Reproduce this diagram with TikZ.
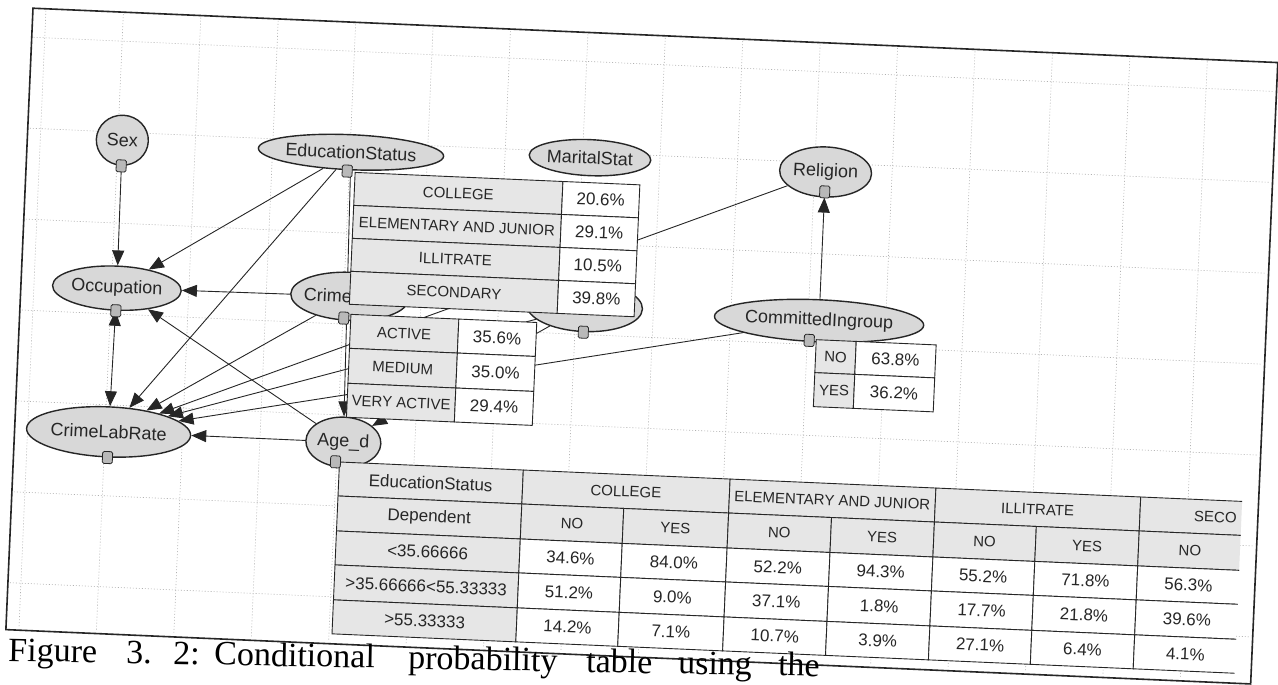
\documentclass[tikz,border=0pt]{standalone}
\usepackage{fontspec}
\setmainfont{Liberation Sans}
\newfontfamily\capfont{Liberation Serif}
\usetikzlibrary{shapes.geometric,arrows.meta}

\definecolor{ink}{HTML}{262626}
\definecolor{nodefill}{HTML}{D8D8D8}
\definecolor{cellgray}{HTML}{E6E6E6}
\definecolor{gridc}{HTML}{B0B0B0}

\pgfdeclarelayer{gridlayer}
\pgfdeclarelayer{edgelayer}
\pgfsetlayers{gridlayer,edgelayer,main}

\tikzset{
  bn/.style={ellipse, draw=ink, line width=1.4pt, fill=nodefill, inner sep=0pt,
    font=\fontsize{18}{20}\selectfont, text=ink},
  lbl/.style={font=\fontsize{18}{20}\selectfont, text=ink, inner sep=0pt},
  edge/.style={draw=ink, line width=0.9pt, -{Triangle[length=15pt,width=12pt]}},
  edgetwo/.style={draw=ink, line width=0.9pt, {Triangle[length=15pt,width=12pt]}-{Triangle[length=15pt,width=12pt]}},
  icon/.style={draw=ink, fill=gray!55, rounded corners=1.5pt, minimum width=10pt,
    minimum height=12pt, inner sep=0pt, line width=0.8pt},
  tbl/.style={draw=ink, line width=0.9pt},
  tcap/.style={font=\fontsize{15}{17}\selectfont, text=ink, inner sep=0pt},
  tnum/.style={font=\fontsize{17}{19}\selectfont, text=ink, inner sep=0pt},
  gridl/.style={draw=gridc, line width=0.6pt, dash pattern=on 1pt off 2pt},
  capt/.style={font=\capfont\fontsize{34}{38}\selectfont, text=black, inner sep=0pt, anchor=base west},
}

\newcommand{\mycell}[8]{\draw[tbl,fill=#5] (#1,#2) rectangle (#3,#4);
  \node[#6] (#7) at ({(#1+#3)/2},{(#2+#4)/2}) {#8};}

\begin{document}
\begin{tikzpicture}[x=1pt,y=-1pt]
\useasboundingbox (0,0) rectangle (1278,685);
\clip (0,0) rectangle (1278,685);
\begin{pgfonlayer}{gridlayer}
  \fill[white] (0,0) rectangle (1278,685);
\end{pgfonlayer}

\begin{scope}[rotate around={-2.5:(640,342)}, transform shape]
  % grid and frame
  \begin{pgfonlayer}{gridlayer}
    \foreach \gx in {32,109.5,...,1200} \draw[gridl] (\gx,37) -- (\gx,655);
    \foreach \gy in {64,155,...,640} \draw[gridl] (21,\gy) -- (1263,\gy);
    \draw[draw=ink, line width=1.6pt] (19,35) rectangle (1265,657);
  \end{pgfonlayer}

  % nodes
  \node[bn, minimum width=52pt, minimum height=50pt] (sex) at (114,163) {Sex};
  \node[bn, minimum width=146pt, minimum height=35pt] (edu) at (343,165) {EducationStatus};
  \node[bn, minimum width=116pt, minimum height=36pt] (mar) at (582,160) {MaritalStat};
  \node[bn, minimum width=80pt, minimum height=50pt] (rel) at (818,164) {Religion};
  \node[bn, minimum width=117pt, minimum height=44pt] (occ) at (115,311) {Occupation};
  \node[bn, minimum width=118pt, minimum height=48pt] (crime) at (348,309) {};
  \node[lbl, anchor=west] (crimetxt) at (302,309) {Crime};
  \node[bn, minimum width=116pt, minimum height=50pt] (dep) at (583,309) {};
  \node[bn, minimum width=168pt, minimum height=42pt] (com) at (818,313) {CommittedIngroup};
  \node[bn, minimum width=137pt, minimum height=50pt] (clr) at (113,455) {CrimeLabRate};
  \node[bn, minimum width=75pt, minimum height=50pt] (age) at (348,455) {Age\_d};

  % edges, under the nodes
  \begin{pgfonlayer}{edgelayer}
    \draw[edge] (sex) -- (occ);
    \draw[edge] (edu) -- (occ);
    \draw[edge] (edu) -- (clr);
    \draw[edge] (edu) -- (age);
    \draw[edge] (crime) -- (occ);
    \draw[edge] (crime) -- (clr);
    \draw[edgetwo] (occ) -- (clr);
    \draw[edge] (age) -- (occ);
    \draw[edge] (age) -- (clr);
    \draw[edge] (dep) -- (clr);
    \draw[edge] (dep) -- (age);
    \draw[edge] (com) -- (clr);
    \draw[edge] (com) -- (rel);
    \draw[edge] (rel) -- (clr);
  \end{pgfonlayer}

  % table 1 : EducationStatus
  \mycell{348}{185}{556}{218}{cellgray}{tcap}{ta1}{COLLEGE}
  \mycell{556}{185}{633}{218}{white}{tnum}{ta2}{20.6\%}
  \mycell{348}{218}{556}{251}{cellgray}{tcap}{ta3}{ELEMENTARY AND JUNIOR}
  \mycell{556}{218}{633}{251}{white}{tnum}{ta4}{29.1\%}
  \mycell{348}{251}{556}{284}{cellgray}{tcap}{ta5}{ILLITRATE}
  \mycell{556}{251}{633}{284}{white}{tnum}{ta6}{10.5\%}
  \mycell{348}{284}{556}{317}{cellgray}{tcap}{ta7}{SECONDARY}
  \mycell{556}{284}{633}{317}{white}{tnum}{ta8}{39.8\%}

  % table 2 : Crime
  \mycell{350}{327}{458}{361}{cellgray}{tcap}{tb1}{ACTIVE}
  \mycell{458}{327}{536}{361}{white}{tnum}{tb2}{35.6\%}
  \mycell{350}{361}{458}{396}{cellgray}{tcap}{tb3}{MEDIUM}
  \mycell{458}{361}{536}{396}{white}{tnum}{tb4}{35.0\%}
  \mycell{350}{396}{458}{430}{cellgray}{tcap}{tb5}{VERY ACTIVE}
  \mycell{458}{396}{536}{430}{white}{tnum}{tb6}{29.4\%}

  % table 3 : CommittedIngroup
  \mycell{816}{332}{856}{365}{cellgray}{tcap}{tc1}{NO}
  \mycell{856}{332}{936}{365}{white}{tnum}{tc2}{63.8\%}
  \mycell{816}{365}{856}{399}{cellgray}{tcap}{tc3}{YES}
  \mycell{856}{365}{936}{399}{white}{tnum}{tc4}{36.2\%}

  % big table : Age_d
  \begin{scope}
    \clip (338,468) rectangle (1248.5,655);
    \mycell{345}{475}{529}{509}{cellgray}{tnum}{h0}{EducationStatus}
    \mycell{529}{475}{736}{509}{cellgray}{tcap}{h1}{COLLEGE}
    \mycell{736}{475}{942}{509}{cellgray}{tcap}{h2}{ELEMENTARY AND JUNIOR}
    \mycell{942}{475}{1147}{509}{cellgray}{tcap}{h3}{ILLITRATE}
    \draw[tbl,fill=cellgray] (1147,475) rectangle (1352,509);
    \node[tcap, anchor=east] (h4) at (1244,492) {SECO};
    \mycell{345}{509}{529}{544}{cellgray}{tnum}{d0}{Dependent}
    \mycell{529}{509}{631}{544}{cellgray}{tcap}{d1}{NO}
    \mycell{631}{509}{736}{544}{cellgray}{tcap}{d2}{YES}
    \mycell{736}{509}{839}{544}{cellgray}{tcap}{d3}{NO}
    \mycell{839}{509}{942}{544}{cellgray}{tcap}{d4}{YES}
    \mycell{942}{509}{1044}{544}{cellgray}{tcap}{d5}{NO}
    \mycell{1044}{509}{1147}{544}{cellgray}{tcap}{d6}{YES}
    \mycell{1147}{509}{1250}{544}{cellgray}{tcap}{d7}{NO}
    \mycell{345}{544}{529}{578}{cellgray}{tnum}{r0}{<35.66666}
    \mycell{529}{544}{631}{578}{white}{tnum}{r1}{34.6\%}
    \mycell{631}{544}{736}{578}{white}{tnum}{r2}{84.0\%}
    \mycell{736}{544}{839}{578}{white}{tnum}{r3}{52.2\%}
    \mycell{839}{544}{942}{578}{white}{tnum}{r4}{94.3\%}
    \mycell{942}{544}{1044}{578}{white}{tnum}{r5}{55.2\%}
    \mycell{1044}{544}{1147}{578}{white}{tnum}{r6}{71.8\%}
    \mycell{1147}{544}{1250}{578}{white}{tnum}{r7}{56.3\%}
    \mycell{345}{578}{529}{613}{cellgray}{tnum}{s0}{>35.66666<55.33333}
    \mycell{529}{578}{631}{613}{white}{tnum}{s1}{51.2\%}
    \mycell{631}{578}{736}{613}{white}{tnum}{s2}{9.0\%}
    \mycell{736}{578}{839}{613}{white}{tnum}{s3}{37.1\%}
    \mycell{839}{578}{942}{613}{white}{tnum}{s4}{1.8\%}
    \mycell{942}{578}{1044}{613}{white}{tnum}{s5}{17.7\%}
    \mycell{1044}{578}{1147}{613}{white}{tnum}{s6}{21.8\%}
    \mycell{1147}{578}{1250}{613}{white}{tnum}{s7}{39.6\%}
    \mycell{345}{613}{529}{647}{cellgray}{tnum}{u0}{>55.33333}
    \mycell{529}{613}{631}{647}{white}{tnum}{u1}{14.2\%}
    \mycell{631}{613}{736}{647}{white}{tnum}{u2}{7.1\%}
    \mycell{736}{613}{839}{647}{white}{tnum}{u3}{10.7\%}
    \mycell{839}{613}{942}{647}{white}{tnum}{u4}{3.9\%}
    \mycell{942}{613}{1044}{647}{white}{tnum}{u5}{27.1\%}
    \mycell{1044}{613}{1147}{647}{white}{tnum}{u6}{6.4\%}
    \mycell{1147}{613}{1250}{647}{white}{tnum}{u7}{4.1\%}
  \end{scope}

  % icons
  \node[icon] (sexI) at (sex.south) {};
  \node[icon] (eduI) at (340,184) {};
  \node[icon] (relI) at (818,184) {};
  \node[icon] (occI) at (occ.south) {};
  \node[icon] (crimeI) at (343,331) {};
  \node[icon] (depI) at (dep.south) {};
  \node[icon] (comI) at (809,333) {};
  \node[icon] (clrI) at (clr.south) {};
  \node[icon] (ageI) at (341,475) {};
\end{scope}

% caption
\begin{scope}[shift={(8,661)}, rotate=-1.1, transform shape]
  \node[capt] (w1) at (0,0) {Figure};
  \node[capt] (w2) at (118,0) {3.};
  \node[capt] (w3) at (165,0) {2:};
  \node[capt] (w4) at (206,0) {Conditional};
  \node[capt] (w5) at (400,0) {probability};
  \node[capt] (w6) at (578,0) {table};
  \node[capt] (w7) at (670,0) {using};
  \node[capt] (w8) at (770,0) {the};
\end{scope}
\end{tikzpicture}
\end{document}
